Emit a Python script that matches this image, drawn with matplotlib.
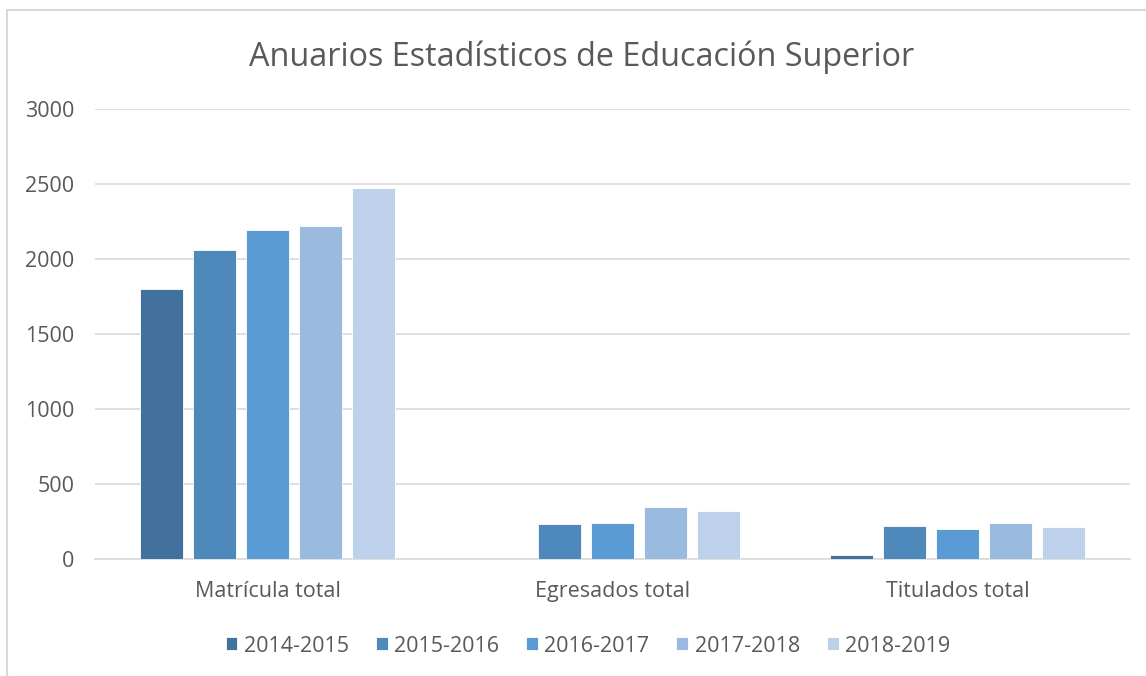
import numpy as np
import matplotlib.pyplot as plt
from matplotlib.patches import Rectangle

plt.rcParams['font.family'] = ['Open Sans', 'DejaVu Sans']

categories = ['Matrícula total', 'Egresados total', 'Titulados total']
years = ['2014-2015', '2015-2016', '2016-2017', '2017-2018', '2018-2019']
values = {
    '2014-2015': [1800, 0, 27],
    '2015-2016': [2058, 233, 220],
    '2016-2017': [2191, 240, 200],
    '2017-2018': [2220, 347, 238],
    '2018-2019': [2471, 322, 211],
}
colors = ['#43719D', '#4F89BC', '#5B9BD5', '#9ABADF', '#BDD1EA']

W, H = 1146, 676
fig = plt.figure(figsize=(W / 100, H / 100), dpi=100)
ax = fig.add_axes([95 / W, 1 - 559 / H, 1035 / W, 450 / H])

# chart outline (extends past the right/bottom edges, as in the screenshot)
fig.patches.append(Rectangle((7 / W, -0.1), 1.2, 1 - 10 / H + 0.1, transform=fig.transFigure,
                             fill=False, edgecolor='#D9D9D9', linewidth=1.5))

x = np.arange(len(categories))
step = 0.1536
width = 0.122
for i, (y, c) in enumerate(zip(years, colors)):
    ax.bar(x + (i - 2) * step, values[y], width, color=c, label=y,
           edgecolor='white', linewidth=0.6, zorder=3)

ax.set_xlim(-0.5, 2.5)
ax.set_ylim(0, 3000)
ax.set_yticks(range(0, 3001, 500))
ax.set_xticks(x)
ax.set_xticklabels(categories)
ax.grid(axis='y', color='#D9D9D9', linewidth=1.2, zorder=0)
for s in ['top', 'right', 'left']:
    ax.spines[s].set_visible(False)
ax.spines['bottom'].set_color('#D9D9D9')
ax.spines['bottom'].set_linewidth(1.2)
ax.tick_params(axis='both', length=0, labelsize=15.5, colors='#595959')
ax.tick_params(axis='x', pad=16)
ax.tick_params(axis='y', pad=15)

fig.text(582 / W, 1 - 57 / H, 'Anuarios Estadísticos de Educación Superior',
         ha='center', va='center', fontsize=23.3, color='#595959')

leg = fig.legend(loc='center', bbox_to_anchor=(588 / W, 1 - 646 / H), ncol=5,
                 frameon=False, fontsize=15.5, handlelength=0.55, handleheight=0.55,
                 handletextpad=0.3, columnspacing=1.25)
for t in leg.get_texts():
    t.set_color('#595959')

fig.savefig('out.png', dpi=100)
